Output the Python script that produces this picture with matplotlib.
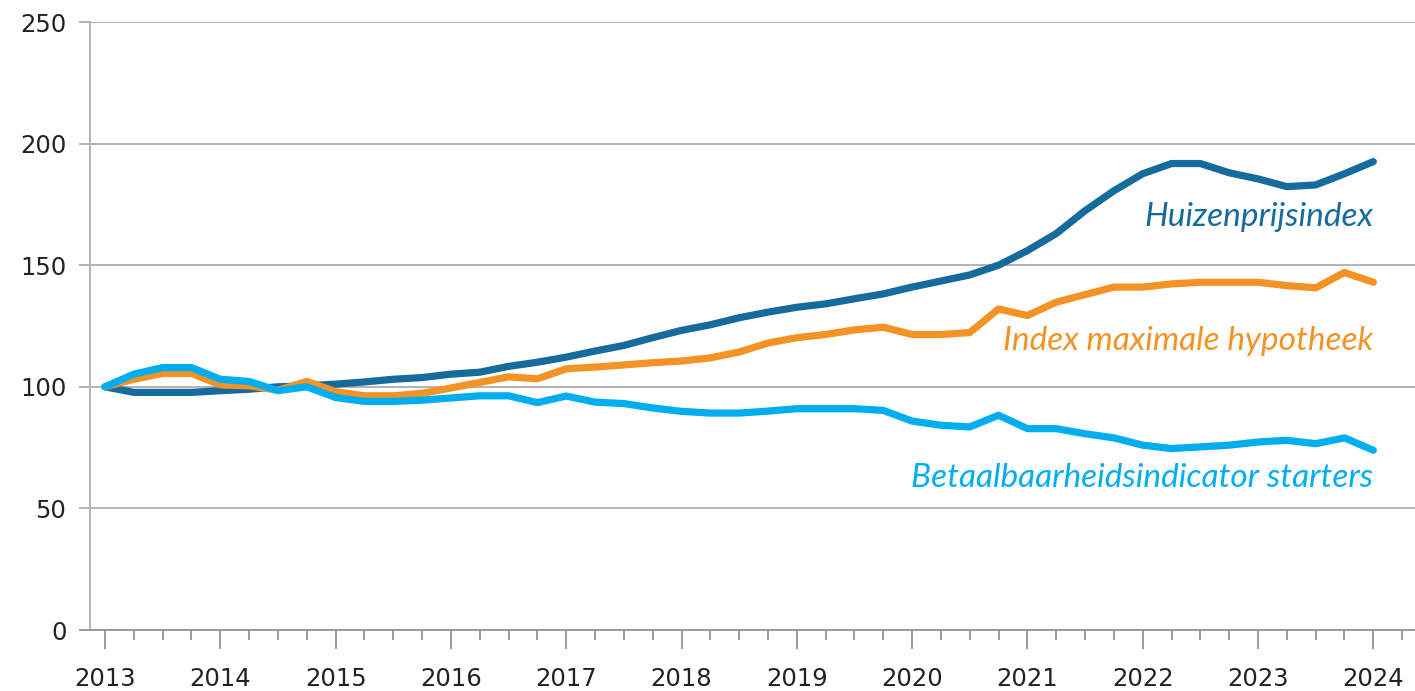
import matplotlib
matplotlib.use("Agg")
import matplotlib.pyplot as plt
import numpy as np

# quarterly observations, 2013 Q1 .. 2024 Q1
start_year = 2013
n_quarters = 45

huizenprijs = [
    100, 97.7, 97.7, 97.7, 98.4, 99.0, 100.0, 100.4, 101.1, 102.0,
    103.1, 103.8, 105.2, 106.0, 108.4, 110.1, 112.2, 114.7, 117.0, 120.2,
    123.2, 125.5, 128.4, 130.7, 132.7, 134.1, 136.2, 138.2, 141.0, 143.5,
    146.0, 150.0, 156.0, 163.0, 172.4, 180.6, 187.6, 191.8, 191.8, 188.0,
    185.5, 182.3, 183.0, 187.6, 192.6,
]
max_hypotheek = [
    100, 103.1, 105.5, 105.5, 100.8, 100.4, 98.6, 102.2, 98.0, 96.3,
    96.3, 97.3, 99.5, 101.8, 104.1, 103.3, 107.4, 108.1, 109.0, 109.9,
    110.6, 111.9, 114.3, 118.0, 120.2, 121.5, 123.4, 124.5, 121.5, 121.5,
    122.3, 132.0, 129.3, 134.8, 137.9, 141.0, 141.0, 142.3, 143.0, 143.0,
    143.0, 141.6, 140.7, 147.0, 143.0,
]
betaalbaarheid = [
    100, 105.2, 107.9, 107.9, 103.1, 102.2, 98.4, 100.0, 95.6, 94.0,
    94.0, 94.5, 95.4, 96.3, 96.3, 93.5, 96.2, 93.7, 93.1, 91.3,
    89.9, 89.2, 89.2, 90.0, 91.0, 91.0, 91.0, 90.3, 85.9, 84.2,
    83.5, 88.3, 82.8, 82.8, 80.7, 79.0, 76.0, 74.6, 75.3, 76.0,
    77.3, 78.0, 76.6, 79.0, 73.9,
]

series_labels = [
    "Huizenprijsindex",
    "Index maximale hypotheek",
    "Betaalbaarheidsindicator starters",
]
label_y = [166.3, 115.2, 59.0]

years = list(range(2013, 2025))
y_ticks = [0, 50, 100, 150, 200, 250]

DARK_BLUE = "#156b9c"
ORANGE = "#f39225"
LIGHT_BLUE = "#00aeef"
GRID = "#b3b3b3"

x = start_year + np.arange(n_quarters) / 4

fig = plt.figure(figsize=(14.15, 6.91), dpi=100)
ax = fig.add_axes([90 / 1415, 1 - 630 / 691, 1 - 90 / 1415, (630 - 22) / 691])

colors = [DARK_BLUE, ORANGE, LIGHT_BLUE]
# light blue sits on top, dark blue underneath
for values, color, z in zip([huizenprijs, max_hypotheek, betaalbaarheid], colors, [2, 3, 4]):
    ax.plot(x, values, color=color, linewidth=5.2, solid_capstyle="round",
            solid_joinstyle="round", zorder=z)

for text, ypos, color in zip(series_labels, label_y, colors):
    ax.text(2024, ypos, text, color=color, fontsize=24, fontstyle="italic",
            family="Lato", ha="right", va="baseline")

ax.set_xlim(2013 - 15 / 115.3, 2013 + (1415 - 105) / 115.3)
ax.set_ylim(0, 250)
ax.set_yticks(y_ticks)
ax.set_xticks(years)
ax.set_xticks(start_year + np.arange(0, 46) / 4, minor=True)
ax.set_xticklabels([str(y) for y in years])

ax.grid(axis="y", color=GRID, linewidth=1.4)
ax.set_axisbelow(True)

for side in ["top", "right"]:
    ax.spines[side].set_visible(False)
ax.spines["left"].set_color(GRID)
ax.spines["left"].set_linewidth(1.4)
ax.spines["bottom"].set_color("#9a9a9a")
ax.spines["bottom"].set_linewidth(1.4)
ax.spines["bottom"].set_bounds(2013 - 25 / 115.3, ax.get_xlim()[1])

ax.tick_params(axis="x", which="major", length=14, width=1.4, color="#9a9a9a",
               pad=13, labelsize=17.5, labelcolor="#222222")
ax.tick_params(axis="x", which="minor", length=7, width=1.4, color="#9a9a9a")
ax.tick_params(axis="y", length=8, width=1.4, color=GRID, pad=9,
               labelsize=17.5, labelcolor="#222222")

fig.savefig("out.png", dpi=100)
